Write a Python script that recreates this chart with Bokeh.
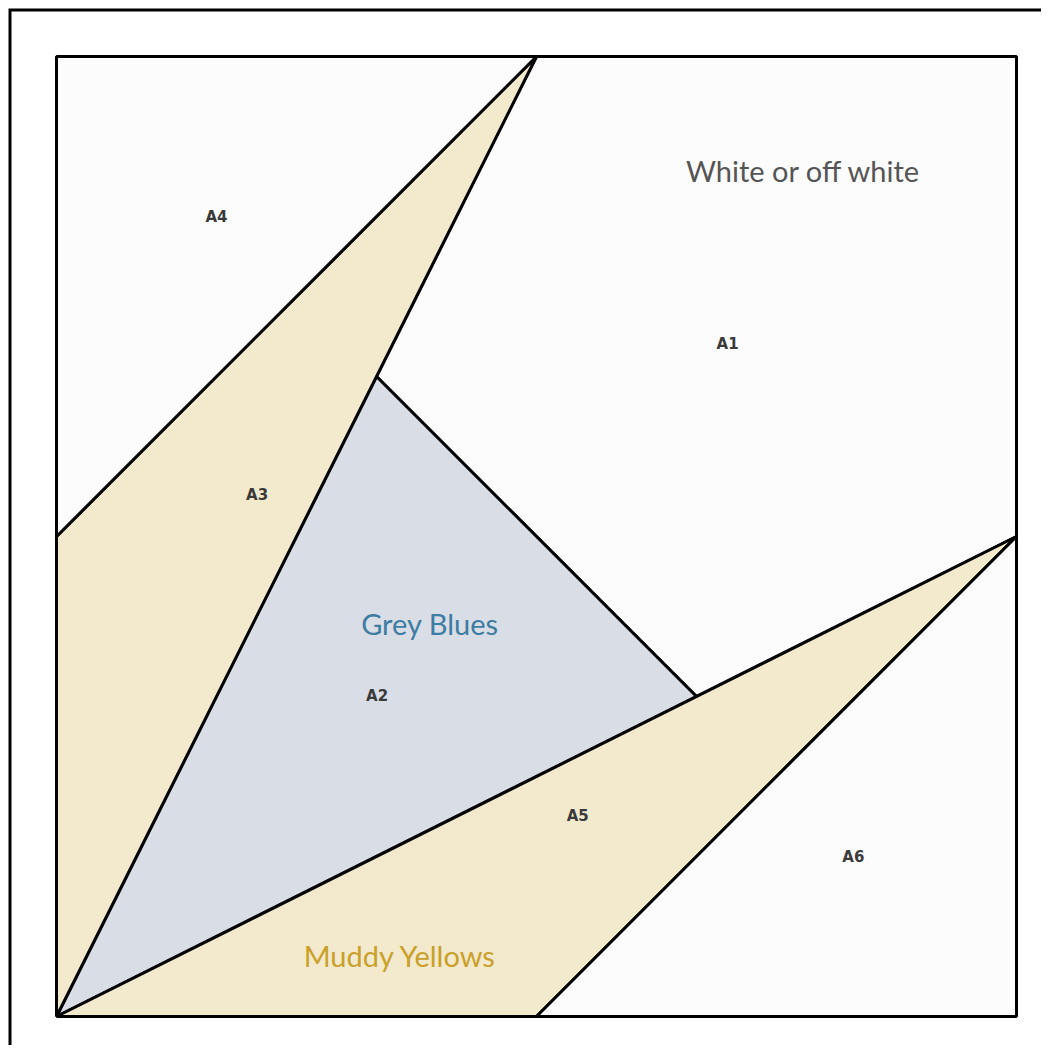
from bokeh.plotting import figure
from bokeh.models import Range1d, ColumnDataSource
from bokeh.core.properties import value
from bokeh.embed import file_html
from bokeh.resources import INLINE

# Quilt block regions (unit square, origin bottom-left)
region_names = ["A1", "A2", "A3", "A4", "A5", "A6"]
region_xs = [
    [0.5, 1.0, 1.0, 2/3, 1/3],
    [0.0, 1/3, 2/3],
    [0.0, 0.0, 0.5],
    [0.0, 0.0, 0.5],
    [0.0, 1.0, 0.5],
    [0.5, 1.0, 1.0],
]
region_ys = [
    [1.0, 1.0, 0.5, 1/3, 2/3],
    [0.0, 2/3, 1/3],
    [0.0, 0.5, 1.0],
    [0.5, 1.0, 1.0],
    [0.0, 0.5, 0.0],
    [0.0, 0.0, 0.5],
]
region_colors = ["#fcfcfc", "#d9dde5", "#f3e9cd", "#fcfcfc", "#f3e9cd", "#fcfcfc"]

label_x = [0.699, 0.334, 0.209, 0.1667, 0.543, 0.830]
label_y = [0.701, 0.334, 0.543, 0.833, 0.209, 0.166]

note_texts = ["White or off white", "Grey Blues", "Muddy Yellows"]
note_x = [0.778, 0.389, 0.358]
note_y = [0.881, 0.409, 0.0635]
note_colors = ["#555555", "#3d7ca3", "#c9a02a"]

W, H = 1041, 1045
PX = 960.0
x0 = -56 / PX
x1 = x0 + W / PX
y1 = 1 + 56 / PX
y0 = y1 - H / PX

p = figure(width=W, height=H, output_backend="svg", toolbar_location=None,
           x_range=Range1d(x0, x1), y_range=Range1d(y0, y1),
           min_border=0, outline_line_color=None)
p.axis.visible = False
p.grid.visible = False
p.background_fill_color = "white"
p.border_fill_color = "white"

src = ColumnDataSource(dict(xs=region_xs, ys=region_ys, c=region_colors))
p.patches("xs", "ys", source=src, fill_color="c", line_color="black",
          line_width=3, line_join="bevel")

p.text(label_x, label_y, text=region_names, text_font=value("DejaVu Sans"),
       text_font_size="15px", text_font_style="bold", text_color="#3a3a3a",
       text_align="center", text_baseline="middle")

p.text(note_x, note_y, text=note_texts, text_font=value("Lato"),
       text_font_size="29px", text_color=note_colors,
       text_align="center", text_baseline="middle")

# outer frame: only the top and left edges fall inside the view
fx = x0 + 9.5 / PX
fy = y1 - 9.5 / PX
p.line([fx, fx, x1 + 0.01], [y0 - 0.01, fy, fy], line_color="black",
       line_width=3, line_join="miter")

open("out.html", "w").write(file_html(p, INLINE))
